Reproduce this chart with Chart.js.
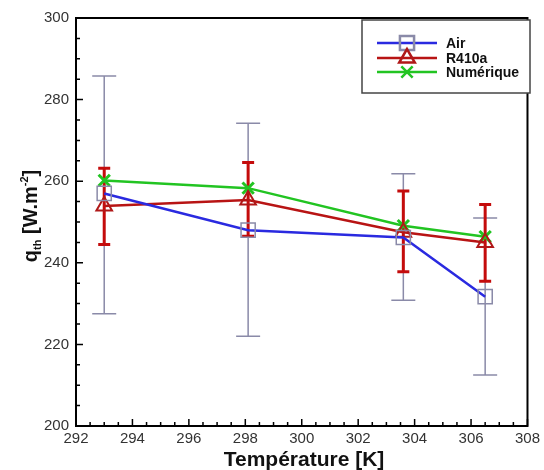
<!DOCTYPE html>
<html>
<head>
<meta charset="utf-8">
<script src="https://cdn.jsdelivr.net/npm/chart.js@4.4.1/dist/chart.umd.min.js"></script>
<style>
  body { margin: 0; background: #fff; }
  canvas { display: block; }
</style>
</head>
<body>
<canvas id="chart" width="544" height="470"></canvas>
<script>
// temperatures (K)
const temps = [293, 298.1, 303.6, 306.5];

// Air
const airValues = [257, 248, 246.2, 231.7];
const airLow = [227.5, 222, 230.8, 212.5];
const airHigh = [285.8, 274.2, 261.8, 251];

// R410a
const r410Values = [253.9, 255.4, 247.5, 245];
const r410Low = [244.5, 246.5, 237.8, 235.5];
const r410High = [263.2, 264.6, 257.6, 254.3];

// Numérique
const numValues = [260.2, 258.3, 249.1, 246.4];

const xTicks = [292, 294, 296, 298, 300, 302, 304, 306, 308];
const yTicks = [200, 220, 240, 260, 280, 300];

function points(vals) {
  return vals.map((v, i) => ({ x: temps[i], y: v }));
}

const FONT = "'Liberation Sans', Arial, sans-serif";

function drawErrors(chart, lows, highs, color, width, cap) {
  const ctx = chart.ctx;
  const xs = chart.scales.x, ys = chart.scales.y;
  ctx.save();
  ctx.strokeStyle = color;
  ctx.lineWidth = width;
  for (let i = 0; i < temps.length; i++) {
    const px = xs.getPixelForValue(temps[i]);
    const y1 = ys.getPixelForValue(lows[i]);
    const y2 = ys.getPixelForValue(highs[i]);
    ctx.beginPath();
    ctx.moveTo(px, y1); ctx.lineTo(px, y2);
    ctx.moveTo(px - cap, y1); ctx.lineTo(px + cap, y1);
    ctx.moveTo(px - cap, y2); ctx.lineTo(px + cap, y2);
    ctx.stroke();
  }
  ctx.restore();
}

const extras = {
  id: "extras",
  beforeDatasetsDraw(chart) {
    drawErrors(chart, airLow, airHigh, "#8a8aa8", 1.5, 12);
    drawErrors(chart, r410Low, r410High, "#c40c0c", 3, 6);
  },
  afterDraw(chart) {
    const ctx = chart.ctx;
    const a = chart.chartArea;
    const xs = chart.scales.x, ys = chart.scales.y;
    ctx.save();

    // ticks (inward)
    ctx.strokeStyle = "#000";
    ctx.lineWidth = 1.5;
    ctx.beginPath();
    for (let v = 292; v <= 308.001; v += 0.5) {
      const px = xs.getPixelForValue(v);
      const len = (Math.abs(v / 2 - Math.round(v / 2)) < 1e-6) ? 7 : 4;
      ctx.moveTo(px, a.bottom); ctx.lineTo(px, a.bottom - len);
    }
    for (let v = 200; v <= 300.001; v += 5) {
      const py = ys.getPixelForValue(v);
      const len = (v % 20 === 0) ? 7 : 4;
      ctx.moveTo(a.left, py); ctx.lineTo(a.left + len, py);
    }
    ctx.stroke();

    // frame
    ctx.lineWidth = 2;
    ctx.strokeRect(a.left, a.top, a.right - a.left, a.bottom - a.top);

    // x title
    ctx.fillStyle = "#111";
    ctx.font = "bold 21px " + FONT;
    ctx.textAlign = "center";
    ctx.textBaseline = "alphabetic";
    ctx.fillText("Température [K]", 304, 466);

    // y title with sub/superscript
    ctx.save();
    ctx.translate(37, 216);
    ctx.rotate(-Math.PI / 2);
    const parts = [
      { t: "q", f: "bold 20px " + FONT, dy: 0 },
      { t: "th", f: "bold 11px " + FONT, dy: 4 },
      { t: " [W.m", f: "bold 20px " + FONT, dy: 0 },
      { t: "-2", f: "bold 11px " + FONT, dy: -9 },
      { t: "]", f: "bold 20px " + FONT, dy: 0 }
    ];
    let total = 0;
    parts.forEach(p => { ctx.font = p.f; p.w = ctx.measureText(p.t).width; total += p.w; });
    let cx = -total / 2;
    ctx.textAlign = "left";
    parts.forEach(p => { ctx.font = p.f; ctx.fillText(p.t, cx, p.dy); cx += p.w; });
    ctx.restore();

    // legend box
    ctx.lineWidth = 1.5;
    ctx.strokeStyle = "#444";
    ctx.fillStyle = "#fff";
    ctx.fillRect(362, 20, 168, 73);
    ctx.strokeRect(362, 20, 168, 73);

    const rows = [
      { label: "Air", ds: 0, y: 43 },
      { label: "R410a", ds: 1, y: 58 },
      { label: "Numérique", ds: 2, y: 72 }
    ];
    rows.forEach(r => {
      const d = chart.data.datasets[r.ds];
      ctx.strokeStyle = d.borderColor;
      ctx.lineWidth = d.borderWidth;
      ctx.beginPath();
      ctx.moveTo(377, r.y); ctx.lineTo(437, r.y);
      ctx.stroke();
      ctx.strokeStyle = d.pointBorderColor;
      ctx.fillStyle = "rgba(0,0,0,0)";
      Chart.helpers.drawPoint(ctx, {
        pointStyle: d.pointStyle, rotation: 0,
        radius: d.pointRadius, borderWidth: d.pointBorderWidth
      }, 407, r.y);
      ctx.fillStyle = "#111";
      ctx.font = "bold 14px " + FONT;
      ctx.textAlign = "left";
      ctx.textBaseline = "middle";
      ctx.fillText(r.label, 446, r.y + 1);
    });
    ctx.restore();
  }
};

new Chart(document.getElementById("chart"), {
  type: "scatter",
  data: {
    datasets: [
      {
        label: "Air",
        data: points(airValues),
        showLine: true,
        borderColor: "#2a2ae0",
        borderWidth: 2.5,
        pointStyle: "rect",
        pointRadius: 10,
        pointBorderColor: "#8a8aa8",
        pointBackgroundColor: "rgba(0,0,0,0)",
        pointBorderWidth: 1.5
      },
      {
        label: "R410a",
        data: points(r410Values),
        showLine: true,
        borderColor: "#b81414",
        borderWidth: 2.5,
        pointStyle: "triangle",
        pointRadius: 9,
        pointBorderColor: "#b01818",
        pointBackgroundColor: "rgba(0,0,0,0)",
        pointBorderWidth: 2
      },
      {
        label: "Numérique",
        data: points(numValues),
        showLine: true,
        borderColor: "#22c422",
        borderWidth: 2.5,
        pointStyle: "crossRot",
        pointRadius: 8,
        pointBorderColor: "#22c422",
        pointBackgroundColor: "rgba(0,0,0,0)",
        pointBorderWidth: 3
      }
    ]
  },
  options: {
    responsive: false,
    animation: false,
    layout: { padding: { top: 18, right: 14, left: 0, bottom: 0 } },
    plugins: { legend: { display: false }, tooltip: { enabled: false } },
    scales: {
      x: {
        type: "linear",
        min: 292, max: 308,
        afterBuildTicks: s => { s.ticks = xTicks.map(v => ({ value: v })); },
        afterFit: s => { s.height = 44; },
        grid: { display: false, drawTicks: false },
        border: { display: false },
        ticks: { font: { family: FONT, size: 15 }, color: "#333", padding: 4, maxRotation: 0 }
      },
      y: {
        min: 200, max: 300,
        afterBuildTicks: s => { s.ticks = yTicks.map(v => ({ value: v })); },
        afterFit: s => { s.width = 76; },
        grid: { display: false, drawTicks: false },
        border: { display: false },
        ticks: { font: { family: FONT, size: 15 }, color: "#333", padding: 7 }
      }
    }
  },
  plugins: [extras]
});
</script>
</body>
</html>
